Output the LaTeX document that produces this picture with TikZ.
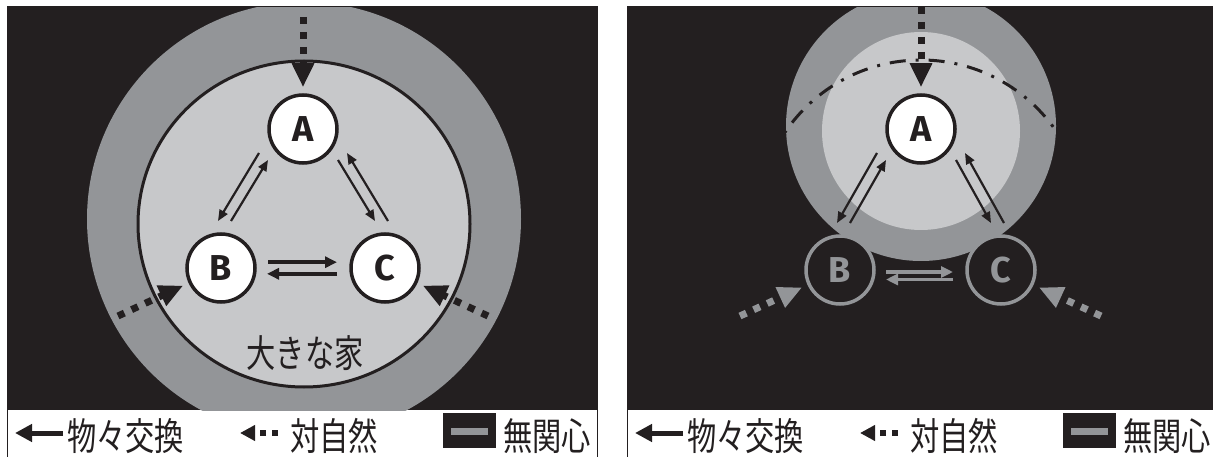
\documentclass[tikz,border=0pt]{standalone}
\usepackage{fontspec}
\setsansfont{Fira Sans}
\newfontfamily\jpfont[FakeStretch=0.77]{Noto Sans CJK JP}
\usepackage{tikz}
\usetikzlibrary{positioning, arrows.meta, calc}
\definecolor{ink}{RGB}{35,31,32}
\definecolor{ring}{RGB}{147,149,152}
\definecolor{house}{RGB}{199,200,202}
\tikzset{
  pers/.style={circle, draw=ink, line width=3.5pt, fill=white, minimum size=68pt,
    inner sep=0pt, text=ink, font=\sffamily\bfseries\fontsize{36}{36}\selectfont},
  gpers/.style={pers, draw=ring, fill=ink, text=ring},
  xarr/.style={-{Triangle[length=11pt,width=9pt]}, line width=2.2pt, draw=ink},
  harr/.style={-{Triangle[length=12pt,width=11pt]}, line width=3.6pt, draw=ink},
  narr/.style={-{Triangle[length=24pt,width=21pt]}, line width=7pt,
    dash pattern=on 7pt off 8pt, draw=ink},
  lxarr/.style={-{Triangle[length=17pt,width=17pt]}, line width=5pt, draw=ink},
  lnarr/.style={-{Triangle[length=15pt,width=15pt]}, line width=6pt,
    dash pattern=on 6pt off 6pt, draw=ink},
  homeline/.style={draw=ink, line width=3pt, fill=house},
  oldhome/.style={draw=ink, line width=3pt, dash pattern=on 16pt off 10pt on 3pt off 10pt},
  jlab/.style={font=\jpfont\fontsize{38}{38}\selectfont, text=ink, inner sep=0pt},
  lbox/.style={fill=ink, minimum width=53pt, minimum height=35pt, inner sep=0pt},
  panel/.style={fill=ink},
  frame/.style={draw=ink, line width=0.6pt}
}

\begin{document}
\begin{tikzpicture}[x=1pt, y=1pt]
\useasboundingbox (0,0) rectangle (1213,-457);
\fill[white] (0,0) rectangle (1213,-457);
% ---------- left panel: big house ----------
\fill[panel] (7,-7) rectangle (597,-410);
\begin{scope}
  \clip (7,-7) rectangle (597,-410);
  \fill[ring] (304,-219) circle (217);
\end{scope}
\draw[homeline] (304,-224) ellipse (166 and 163);
\node[pers] (A) at (303,-129) {A};
\node[pers] (B) at (221,-268) {B};
\node[pers] (C) at (385,-268) {C};
\node[jlab] (home) at (305,-353) {大きな家};
% exchange of goods
\draw[xarr] ($(A)+(-44,-24)$) -- ($(B)+(-3,47)$);
\draw[xarr] ($(B)+(10,47)$) -- ($(A)+(-35,-31)$);
\draw[xarr] ($(A)+(35,-31)$) -- ($(C)+(-10,47)$);
\draw[xarr] ($(C)+(3,47)$) -- ($(A)+(44,-24)$);
\draw[harr] ($(B)+(47,5.8)$) -- ($(C)+(-48,5.8)$);
\draw[harr] ($(C)+(-48,-5.8)$) -- ($(B)+(46,-5.8)$);
% towards nature
\coordinate (skyA) at ($(A)+(0,112)$);
\coordinate (fieldB) at ($(B)+(-103,-48)$);
\coordinate (fieldC) at ($(C)+(103,-48)$);
\draw[narr, shorten >=6pt] (skyA) -- (A.north);
\draw[narr, shorten >=6pt] (fieldB) -- (B);
\draw[narr, shorten >=6pt] (fieldC) -- (C);
% legend
\draw[frame] (7,-470) -- (7,-6) -- (597,-6) -- (597,-470);
\node[jlab, anchor=west] (lxL) at (67,-436) {物々交換};
\draw[lxarr] ($(lxL.west)+(-4,3)$) -- ++(-48,0);
\node[jlab, anchor=west] (lnL) at (290,-436) {対自然};
\draw[lnarr] ($(lnL.west)+(-12,3)$) -- ++(-38,0);
\node[lbox] (lbL) at (469.5,-430.5) {};
\draw[ring, line width=7pt] ($(lbL.center)+(-18.5,-1)$) -- ++(37,0);
\node[jlab, anchor=west] (liL) at (503,-436) {無関心};
% ---------- right panel: house broken up ----------
\fill[panel] (627,-7) rectangle (1217,-410);
\begin{scope}
  \clip (627,-7) rectangle (1213,-410);
  \fill[ring] (921,-126) circle (135);
  \fill[house] (921,-131) circle (99);
  \clip (921,-126) circle (135);
  \draw[oldhome] (921,-224) circle (164);
\end{scope}
\node[pers] (A2) at (921,-129) {A};
\node[gpers] (B2) at (840,-270) {B};
\node[gpers] (C2) at (1001,-270) {C};
% exchange of goods
\draw[xarr] ($(A2)+(-44,-24)$) -- ($(B2)+(-3,47)$);
\draw[xarr] ($(B2)+(10,47)$) -- ($(A2)+(-35,-31)$);
\draw[xarr] ($(A2)+(35,-31)$) -- ($(C2)+(-10,47)$);
\draw[xarr] ($(C2)+(3,47)$) -- ($(A2)+(44,-24)$);
\draw[harr, draw=ring] ($(B2)+(46,-2)$) -- ($(C2)+(-48,-2)$);
\draw[harr, draw=ring] ($(C2)+(-48,-9.5)$) -- ($(B2)+(46,-9.5)$);
% towards nature
\coordinate (skyA2) at ($(A2)+(0,122)$);
\coordinate (fieldB2) at ($(B2)+(-100,-46)$);
\coordinate (fieldC2) at ($(C2)+(100,-46)$);
\draw[narr, shorten >=6pt] (skyA2) -- (A2.north);
\draw[narr, draw=ring, shorten >=6pt] (fieldB2) -- (B2);
\draw[narr, draw=ring, shorten >=6pt] (fieldC2) -- (C2);
% legend
\draw[frame] (627,-470) -- (627,-6) -- (1220,-6);
\node[jlab, anchor=west] (lxR) at (687,-436) {物々交換};
\draw[lxarr] ($(lxR.west)+(-4,3)$) -- ++(-48,0);
\node[jlab, anchor=west] (lnR) at (910,-436) {対自然};
\draw[lnarr] ($(lnR.west)+(-12,3)$) -- ++(-38,0);
\node[lbox] (lbR) at (1089.5,-430.5) {};
\draw[ring, line width=7pt] ($(lbR.center)+(-18.5,-1)$) -- ++(37,0);
\node[jlab, anchor=west] (liR) at (1123,-436) {無関心};
\end{tikzpicture}
\end{document}
